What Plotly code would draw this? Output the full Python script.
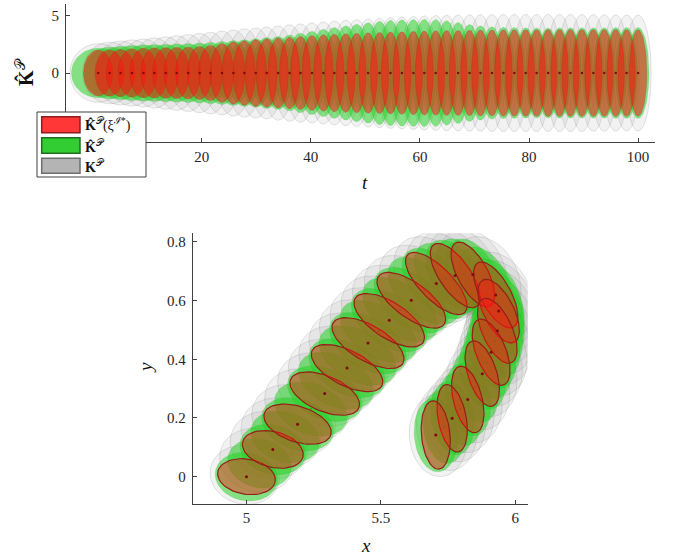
import numpy as np
import plotly.graph_objects as go

# ---------------- top panel data (t, K) ----------------
t_c = [1.0, 3.1, 5.1, 7.2, 9.3, 11.3, 13.4, 15.4, 17.5, 19.6, 21.6, 23.7, 25.8, 27.8, 29.9,
       31.9, 34.0, 36.1, 38.1, 40.2, 42.3, 44.3, 46.4, 48.4, 50.5, 52.6, 54.6, 56.7, 58.8,
       60.8, 62.9, 64.9, 67.0, 69.1, 71.1, 73.2, 75.3, 77.3, 79.4, 81.4, 83.5, 85.6, 87.6,
       89.7, 91.8, 93.8, 95.9, 97.9, 100.0]
red_h = [2.00, 2.02, 2.05, 2.10, 2.15, 2.18, 2.20, 2.22, 2.25, 2.30, 2.40, 2.55, 2.70, 2.80,
         2.90, 2.98, 3.05, 3.10, 3.18, 3.25, 3.32, 3.38, 3.42, 3.46, 3.50, 3.53, 3.56, 3.59,
         3.62, 3.65, 3.67, 3.69, 3.70, 3.72, 3.73, 3.74, 3.75, 3.76, 3.77, 3.77, 3.78, 3.78,
         3.78, 3.78, 3.78, 3.78, 3.78, 3.77, 3.75]
red_w = [2.7, 2.65, 2.6, 2.55, 2.5, 2.45, 2.4, 2.35, 2.3, 2.25, 2.2, 2.15, 2.1, 2.05, 2.0,
         1.95, 1.9, 1.88, 1.85, 1.83, 1.8, 1.78, 1.76, 1.74, 1.72, 1.7, 1.7, 1.68, 1.68, 1.66,
         1.66, 1.65, 1.65, 1.64, 1.64, 1.63, 1.63, 1.62, 1.62, 1.62, 1.61, 1.61, 1.6, 1.6, 1.6,
         1.6, 1.6, 1.6, 1.6]
grn_h = [2.15, 2.25, 2.32, 2.40, 2.45, 2.48, 2.50, 2.53, 2.56, 2.60, 2.66, 2.74, 2.82, 2.90,
         2.98, 3.08, 3.18, 3.30, 3.45, 3.62, 3.80, 3.95, 4.10, 4.25, 4.38, 4.50, 4.58, 4.63,
         4.66, 4.67, 4.65, 4.55, 4.40, 4.22, 4.10, 4.03, 3.98, 3.95, 3.93, 3.92, 3.92, 3.93,
         3.93, 3.94, 3.94, 3.94, 3.95, 3.95, 3.95]
grn_w = [4.9, 4.7, 4.5, 4.3, 4.1, 3.9, 3.75, 3.6, 3.45, 3.3, 3.2, 3.1, 3.0, 2.9, 2.8, 2.72,
         2.65, 2.58, 2.52, 2.46, 2.4, 2.36, 2.32, 2.28, 2.25, 2.22, 2.2, 2.18, 2.16, 2.14, 2.12,
         2.1, 2.09, 2.08, 2.07, 2.06, 2.05, 2.04, 2.03, 2.02, 2.02, 2.01, 2.01, 2.0, 2.0, 2.0,
         2.0, 2.0, 2.0]
gry_h = [2.55, 2.68, 2.78, 2.88, 2.95, 3.05, 3.15, 3.25, 3.35, 3.45, 3.55, 3.65, 3.75, 3.85,
         3.92, 4.00, 4.10, 4.20, 4.28, 4.36, 4.44, 4.52, 4.58, 4.64, 4.70, 4.76, 4.82, 4.87,
         4.92, 4.96, 5.00, 5.03, 5.05, 5.07, 5.08, 5.09, 5.10, 5.10, 5.10, 5.10, 5.10, 5.10,
         5.10, 5.09, 5.08, 5.07, 5.06, 5.05, 5.04]
gry_w = [5.2, 5.0, 4.8, 4.6, 4.4, 4.2, 4.05, 3.9, 3.75, 3.6, 3.5, 3.4, 3.3, 3.2, 3.1, 3.02,
         2.95, 2.88, 2.82, 2.76, 2.7, 2.66, 2.62, 2.58, 2.55, 2.52, 2.5, 2.48, 2.46, 2.44, 2.43,
         2.42, 2.41, 2.4, 2.4, 2.4, 2.4, 2.4, 2.4, 2.4, 2.4, 2.4, 2.4, 2.4, 2.4, 2.4, 2.4, 2.4, 2.4]

# ---------------- bottom panel data (x, y) ----------------
red_x = [5.000, 5.098, 5.190, 5.291, 5.374, 5.452, 5.531, 5.613, 5.706, 5.776, 5.842, 5.927,
         5.938, 5.933, 5.910, 5.877, 5.823, 5.765, 5.704]
red_y = [0.000, 0.093, 0.179, 0.283, 0.370, 0.455, 0.533, 0.601, 0.658, 0.685, 0.689, 0.619,
         0.564, 0.497, 0.424, 0.351, 0.263, 0.199, 0.142]
red_a = [0.108, 0.115, 0.129, 0.136, 0.143, 0.147, 0.147, 0.147, 0.145, 0.132, 0.125, 0.128,
         0.121, 0.121, 0.121, 0.117, 0.117, 0.117, 0.117]
red_b = [0.060, 0.061, 0.061, 0.061, 0.061, 0.062, 0.062, 0.061, 0.058, 0.056, 0.055, 0.055,
         0.055, 0.055, 0.055, 0.053, 0.053, 0.052, 0.053]
red_ang = [-8, -12, -16, -20, -24, -27, -30, -33, -42, -52, -58, -58, -60, -63, -66, -70, -74,
           -78, -84]

grn_x = [5.000, 5.049, 5.098, 5.144, 5.190, 5.240, 5.291, 5.333, 5.374, 5.413, 5.452, 5.491,
         5.531, 5.572, 5.613, 5.660, 5.706, 5.741, 5.776, 5.809, 5.842, 5.890, 5.927, 5.935,
         5.938, 5.938, 5.933, 5.924, 5.910, 5.895, 5.877, 5.851, 5.823, 5.795, 5.765, 5.735, 5.704]
grn_y = [0.000, 0.046, 0.093, 0.136, 0.179, 0.231, 0.283, 0.327, 0.370, 0.413, 0.455, 0.495,
         0.533, 0.569, 0.601, 0.633, 0.658, 0.674, 0.685, 0.690, 0.689, 0.660, 0.619, 0.592,
         0.564, 0.531, 0.497, 0.461, 0.424, 0.388, 0.351, 0.307, 0.263, 0.230, 0.199, 0.170, 0.142]
grn_a = [0.117, 0.120, 0.124, 0.130, 0.137, 0.140, 0.144, 0.147, 0.151, 0.153, 0.155, 0.155,
         0.155, 0.155, 0.155, 0.154, 0.153, 0.146, 0.140, 0.136, 0.133, 0.135, 0.137, 0.133,
         0.130, 0.130, 0.130, 0.130, 0.130, 0.128, 0.126, 0.126, 0.126, 0.126, 0.126, 0.126, 0.126]
grn_b = [0.082, 0.083, 0.084, 0.085, 0.086, 0.086, 0.086, 0.087, 0.087, 0.087, 0.087, 0.087,
         0.087, 0.087, 0.087, 0.086, 0.085, 0.084, 0.083, 0.082, 0.082, 0.082, 0.082, 0.082,
         0.082, 0.082, 0.082, 0.082, 0.082, 0.081, 0.080, 0.080, 0.080, 0.079, 0.078, 0.078, 0.080]
grn_ang = [-8, -10, -12, -14, -16, -18, -20, -22, -24, -25, -27, -28, -30, -31, -33, -37, -42,
           -47, -52, -55, -58, -58, -58, -59, -60, -61, -63, -64, -66, -68, -70, -72, -74, -76,
           -78, -81, -84]

gry_x = [4.994, 5.039, 5.084, 5.130, 5.176, 5.226, 5.277, 5.319, 5.360, 5.399, 5.438, 5.477,
         5.517, 5.558, 5.600, 5.652, 5.700, 5.737, 5.772, 5.806, 5.840, 5.892, 5.937, 5.945,
         5.948, 5.948, 5.943, 5.934, 5.920, 5.905, 5.887, 5.861, 5.833, 5.805, 5.775, 5.745, 5.714]
gry_y = [0.006, 0.056, 0.107, 0.150, 0.193, 0.245, 0.297, 0.341, 0.384, 0.427, 0.469, 0.509,
         0.547, 0.583, 0.614, 0.646, 0.671, 0.686, 0.697, 0.702, 0.700, 0.671, 0.617, 0.590,
         0.562, 0.529, 0.495, 0.459, 0.422, 0.386, 0.349, 0.305, 0.261, 0.228, 0.197, 0.168, 0.140]
gry_a = [0.130, 0.140, 0.146, 0.152, 0.159, 0.162, 0.166, 0.169, 0.173, 0.175, 0.177, 0.177,
         0.177, 0.177, 0.177, 0.176, 0.175, 0.168, 0.162, 0.158, 0.155, 0.157, 0.159, 0.155,
         0.152, 0.152, 0.152, 0.152, 0.152, 0.150, 0.148, 0.148, 0.148, 0.148, 0.148, 0.148, 0.140]
gry_b = [0.100, 0.108, 0.114, 0.116, 0.117, 0.118, 0.118, 0.119, 0.119, 0.119, 0.120, 0.120,
         0.120, 0.120, 0.120, 0.119, 0.118, 0.117, 0.117, 0.117, 0.117, 0.117, 0.117, 0.117,
         0.117, 0.117, 0.117, 0.117, 0.117, 0.116, 0.115, 0.115, 0.115, 0.114, 0.113, 0.112, 0.108]
gry_ang = grn_ang

top_xticks = [0, 20, 40, 60, 80, 100]
top_yticks = [-5, 0, 5]
bot_xticks = [5, 5.5, 6]
bot_yticks = [0, 0.2, 0.4, 0.6, 0.8]

legend_labels = ["<b>K̂</b><sup>𝒫</sup>(ξ<sup>ℐ*</sup>)", "<b>K̂</b><sup>𝒫</sup>",
                 "<b>K</b><sup>𝒫</sup>"]

FONT = "Liberation Serif"
W, H = 678, 556
PHI = np.linspace(0, 2 * np.pi, 61)


def px(x):
    return x / W


def py(y):
    return 1 - y / H


def top_ellipse(t, w, h):
    return t + w * np.cos(PHI), h * np.sin(PHI)


def rot_ellipse(cx, cy, a, b, ang):
    th = np.deg2rad(ang)
    ex, ey = a * np.cos(PHI), b * np.sin(PHI)
    return cx + ex * np.cos(th) - ey * np.sin(th), cy + ex * np.sin(th) + ey * np.cos(th)


fig = go.Figure()

RED_F, RED_L = "rgba(255,20,20,0.52)", "rgba(150,25,20,0.32)"
GRN_F, GRN_L = "rgba(40,210,40,0.55)", "rgba(20,170,20,0.25)"
GRY_F, GRY_L = "rgba(150,150,150,0.12)", "rgba(110,110,110,0.38)"


def add_poly(xs, ys, fillc, linec, lw, xa, ya):
    fig.add_trace(go.Scatter(x=xs, y=ys, mode="lines", fill="toself", fillcolor=fillc,
                             line=dict(color=linec, width=lw), showlegend=False,
                             hoverinfo="skip", xaxis=xa, yaxis=ya))


# top panel
for t, w, h in zip(t_c, gry_w, gry_h):
    add_poly(*top_ellipse(t, w, h), GRY_F, GRY_L, 0.5, "x", "y")
for t, w, h in zip(t_c, grn_w, grn_h):
    add_poly(*top_ellipse(t, w, h), GRN_F, GRN_L, 0.5, "x", "y")
for t, w, h in zip(t_c, red_w, red_h):
    add_poly(*top_ellipse(t, w, h), RED_F, RED_L, 0.6, "x", "y")
fig.add_trace(go.Scatter(x=t_c, y=[0] * len(t_c), mode="markers",
                         marker=dict(size=2.5, color="rgb(130,10,10)"), showlegend=False,
                         hoverinfo="skip", xaxis="x", yaxis="y"))

# bottom panel
for cx, cy, a, b, g in zip(gry_x, gry_y, gry_a, gry_b, gry_ang):
    add_poly(*rot_ellipse(cx, cy, a, b, g), GRY_F, GRY_L, 0.5, "x2", "y2")
for cx, cy, a, b, g in zip(grn_x, grn_y, grn_a, grn_b, grn_ang):
    add_poly(*rot_ellipse(cx, cy, a, b, g), GRN_F, GRN_L, 0.5, "x2", "y2")
for cx, cy, a, b, g in zip(red_x, red_y, red_a, red_b, red_ang):
    add_poly(*rot_ellipse(cx, cy, a, b, g), "rgba(255,20,20,0.42)", "rgb(150,30,25)", 1.2, "x2", "y2")
fig.add_trace(go.Scatter(x=grn_x, y=grn_y, mode="markers",
                         marker=dict(size=2, color="rgba(120,90,40,0.6)"), showlegend=False,
                         hoverinfo="skip", xaxis="x2", yaxis="y2"))
fig.add_trace(go.Scatter(x=red_x, y=red_y, mode="markers",
                         marker=dict(size=3, color="rgb(130,10,10)"), showlegend=False,
                         hoverinfo="skip", xaxis="x2", yaxis="y2"))

axis_common = dict(showgrid=False, zeroline=False, showline=True, linecolor="#404040",
                   linewidth=1, ticks="inside", ticklen=4, tickcolor="#404040",
                   tickfont=dict(family=FONT, size=15, color="#262626"), automargin=False)

fig.update_layout(
    width=W, height=H, margin=dict(l=0, r=0, t=0, b=0, autoexpand=False),
    paper_bgcolor="white", plot_bgcolor="white", showlegend=False,
    xaxis=dict(domain=[px(66), px(655)], range=[-4.9, 103.1], tickvals=top_xticks,
               anchor="y", ticklabelstandoff=1, **axis_common),
    yaxis=dict(domain=[py(142), py(4)], range=[-6.0, 6.0], tickvals=top_yticks,
               anchor="x", ticklabelstandoff=3, **axis_common),
    xaxis2=dict(domain=[px(192.7), px(527.7)], range=[4.8, 6.046], tickvals=bot_xticks,
                anchor="y2", ticklabelstandoff=0, **axis_common),
    yaxis2=dict(domain=[py(504), py(233.3)], range=[-0.093, 0.829], tickvals=bot_yticks,
                anchor="x2", ticklabelstandoff=3, **axis_common),
)

# legend drawn as shapes + text
legend_colors = [("rgb(255,55,55)", "rgb(140,30,30)"), ("rgb(50,205,50)", "rgb(30,110,30)"),
                 ("rgb(180,180,180)", "rgb(110,110,110)")]
fig.add_shape(type="rect", xref="paper", yref="paper", x0=px(37), x1=px(146), y0=py(177),
              y1=py(112), fillcolor="white", line=dict(color="#404040", width=1), layer="above")
rows = [(116.7, 132.7), (137.7, 153.3), (158.3, 173.3)]
for (y0, y1), (fc, lc), lab in zip(rows, legend_colors, legend_labels):
    fig.add_shape(type="rect", xref="paper", yref="paper", x0=px(41.7), x1=px(80),
                  y0=py(y1), y1=py(y0), fillcolor=fc, line=dict(color=lc, width=1.5),
                  layer="above")
    fig.add_annotation(text=lab, x=px(83), y=py((y0 + y1) / 2), xref="paper", yref="paper",
                       showarrow=False, xanchor="left", yanchor="middle",
                       font=dict(family=FONT, size=14, color="#111"))

ann = [
    dict(text="<i>t</i>", x=365, y=183, size=19, angle=0),
    dict(text="<b>K̂</b><sup>𝒫</sup>", x=25, y=72, size=20, angle=-90),
    dict(text="<i>x</i>", x=366, y=545, size=19, angle=0),
    dict(text="<i>y</i>", x=145, y=368, size=19, angle=-90),
]
for a in ann:
    fig.add_annotation(text=a["text"], x=px(a["x"]), y=py(a["y"]), xref="paper", yref="paper",
                       showarrow=False, textangle=a["angle"], xanchor="center", yanchor="middle",
                       font=dict(family=FONT, size=a["size"], color="#111"))

fig.write_html("out.html", config={"displayModeBar": False},
               post_script="document.body.style.margin='0px';")
